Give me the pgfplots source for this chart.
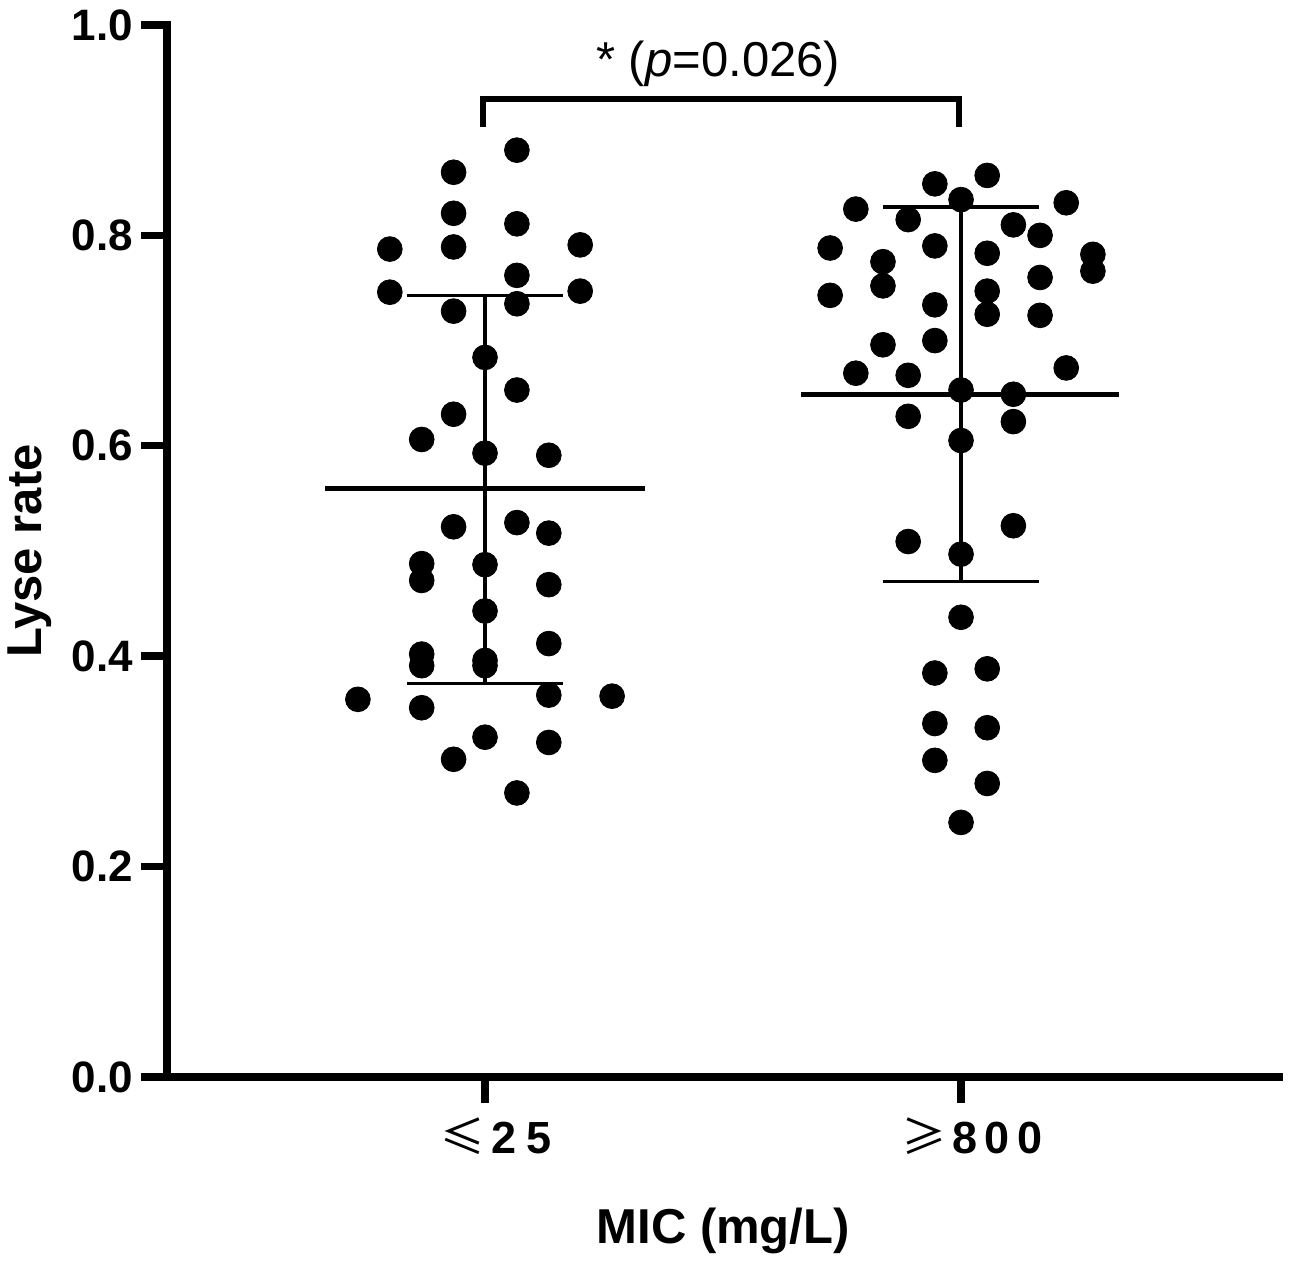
\documentclass[border=0pt]{standalone}
\usepackage{fontspec}
\setmainfont{Liberation Sans}
\newfontfamily\cjk{Noto Sans CJK SC}
\usepackage{pgfplots}
\usepackage{pgfplotstable}
\pgfplotsset{compat=1.18}

\pgfplotstableread{
x y
0.067 0.881
-0.066 0.860
-0.066 0.821
0.067 0.811
-0.200 0.787
-0.066 0.789
0.200 0.791
0.067 0.762
-0.200 0.746
0.200 0.747
-0.066 0.728
0.067 0.735
0 0.684
0.067 0.653
-0.066 0.630
-0.133 0.606
0 0.593
0.134 0.591
-0.066 0.523
0.067 0.527
0.134 0.517
-0.133 0.488
0 0.487
-0.133 0.472
0.134 0.468
0 0.443
0.134 0.412
-0.133 0.402
-0.133 0.391
0 0.396
0 0.391
-0.267 0.359
0.134 0.363
0.267 0.362
-0.133 0.351
0 0.323
0.134 0.318
-0.066 0.302
0.067 0.270
}\groupA

\pgfplotstableread{
x y
1.055 0.857
0.945 0.849
1.000 0.834
1.221 0.831
0.779 0.825
0.889 0.815
1.110 0.810
1.166 0.800
0.725 0.788
0.945 0.790
1.055 0.783
0.836 0.775
1.277 0.782
1.277 0.766
1.166 0.760
0.836 0.752
0.725 0.743
1.055 0.747
0.945 0.734
1.055 0.725
1.166 0.724
0.945 0.700
0.836 0.696
1.221 0.674
0.779 0.669
0.889 0.667
1.000 0.653
1.110 0.649
0.889 0.628
1.110 0.623
1.000 0.605
1.110 0.524
0.889 0.509
1.000 0.497
1.000 0.437
0.945 0.384
1.055 0.388
0.945 0.336
1.055 0.332
0.945 0.301
1.055 0.279
1.000 0.242
}\groupB

\begin{document}
\begin{tikzpicture}
\begin{axis}[
  at={(0,0)}, anchor=south west,
  scale only axis, width=555.75pt, height=526pt,
  xmin=-0.667, xmax=1.668, ymin=0, ymax=1,
  clip=false,
  axis lines=left,
  axis line style={line width=4pt, line cap=rect, -},
  tick align=outside,
  major tick length=13pt,
  tick style={line width=3.7pt, black, line cap=butt},
  xtick={0,1},
  xticklabels={{{\cjk\mdseries ≤}\kern3pt2\kern5pt5},{{\cjk\mdseries ≥}\kern3pt8\kern3.8pt0\kern3.8pt0}},
  ytick={0,0.2,0.4,0.6,0.8,1},
  yticklabels={0.0,0.2,0.4,0.6,0.8,1.0},
  ticklabel style={font=\bfseries\fontsize{22}{26}\selectfont},
  yticklabel style={inner sep=0pt, xshift=-4pt},
  xticklabel style={inner sep=0pt, xshift=5.5pt, yshift=-7pt, font=\bfseries\fontsize{22.5}{26}\selectfont},
  every axis y label/.style={at={([xshift=-68.75pt]rel axis cs:0,0.5)}, rotate=90, anchor=center},
  every axis x label/.style={at={(rel axis cs:0.5,0)}, anchor=base, yshift=-83pt},
  ylabel={\bfseries\fontsize{24.5}{28}\selectfont Lyse rate},
  xlabel={\bfseries\fontsize{24.5}{28}\selectfont MIC (mg/L)},
]
% group 1 mean and SD
\addplot[black, line width=2.5pt, no markers] coordinates {(-0.336,0.559) (0.336,0.559)};
\addplot[black, line width=1.6pt, no markers] coordinates {(0,0.374) (0,0.743)};
\addplot[black, line width=1.6pt, no markers] coordinates {(-0.164,0.743) (0.164,0.743)};
\addplot[black, line width=1.6pt, no markers] coordinates {(-0.164,0.374) (0.164,0.374)};
% group 2 mean and SD
\addplot[black, line width=2.5pt, no markers] coordinates {(0.664,0.649) (1.332,0.649)};
\addplot[black, line width=1.6pt, no markers] coordinates {(1,0.471) (1,0.827)};
\addplot[black, line width=1.6pt, no markers] coordinates {(0.836,0.827) (1.164,0.827)};
\addplot[black, line width=1.6pt, no markers] coordinates {(0.836,0.471) (1.164,0.471)};
% points
\addplot[only marks, mark=*, mark size=6.2pt, black] table[x=x,y=y] {\groupA};
\addplot[only marks, mark=*, mark size=6.2pt, black] table[x=x,y=y] {\groupB};
% significance bracket
\addplot[black, line width=3pt, no markers, line join=miter] coordinates {(-0.004,0.903) (-0.004,0.930) (0.996,0.930) (0.996,0.903)};
\node[anchor=base, inner sep=0pt, font=\fontsize{24.5}{28}\selectfont] at (axis cs:0.49,0.951) {* (\textit{p}=0.026)};
\end{axis}
\pgfresetboundingbox
\path[use as bounding box] (-83.75pt,-92pt) rectangle (562.75pt,538.5pt);
\end{tikzpicture}
\end{document}
